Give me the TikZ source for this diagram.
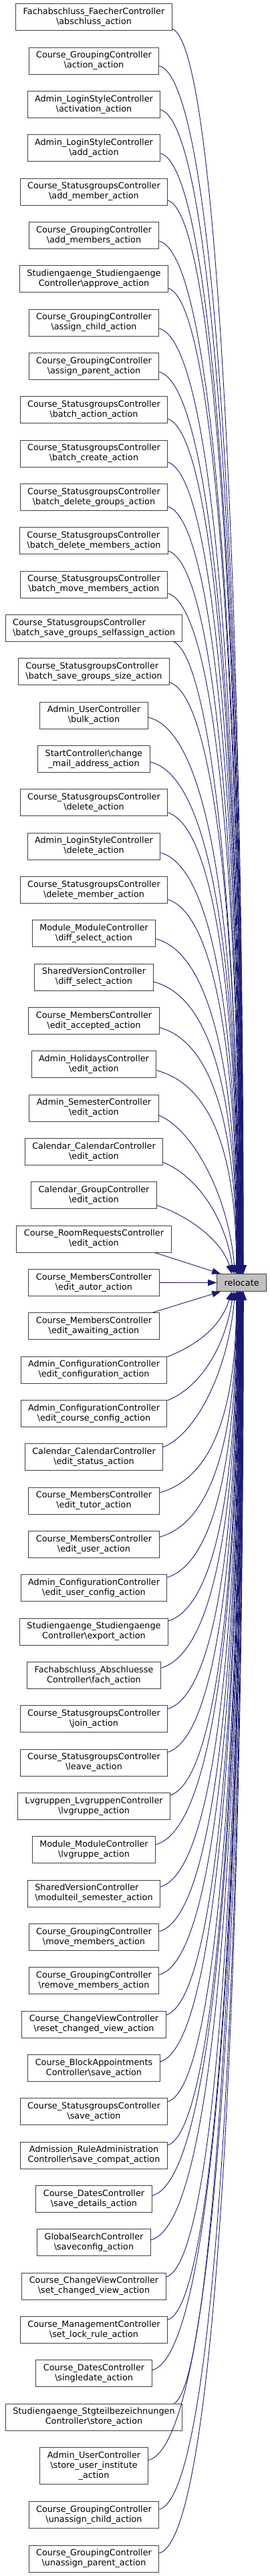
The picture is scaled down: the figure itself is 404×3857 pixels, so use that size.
\documentclass[tikz,border=0pt]{standalone}
\usepackage{fontspec}
\setmainfont{DejaVu Sans}
\definecolor{edgeblue}{RGB}{25,25,112}
\definecolor{frame}{RGB}{64,64,64}
\definecolor{rootfill}{RGB}{191,191,191}
\usetikzlibrary{arrows.meta}
\newcommand{\bsl}{\textbackslash}
\tikzset{
  caller/.style={draw=frame, fill=white, line width=1pt, inner xsep=11pt, inner ysep=6pt,
              minimum height=40pt, align=center},
  root/.style={caller, fill=rootfill, minimum height=25.6pt},
  call/.style={edgeblue, line width=0.9pt, -{Triangle[length=13pt,width=9.5pt]}},
}

\begin{document}
\begin{tikzpicture}[x=1pt,y=-1pt,font=\fontsize{12.8}{15}\selectfont]
        \useasboundingbox[fill=white] (0,0) rectangle (404,3857);
        % callers
        \node[caller] (n01) at (140.5,25.7) {Fachabschluss\_FaecherController\\\bsl abschluss\_action};
        \node[caller] (n02) at (140.5,91.0) {Course\_GroupingController\\\bsl action\_action};
        \node[caller] (n03) at (140.5,156.4) {Admin\_LoginStyleController\\\bsl activation\_action};
        \node[caller] (n04) at (140.5,221.7) {Admin\_LoginStyleController\\\bsl add\_action};
        \node[caller] (n05) at (140.5,287.0) {Course\_StatusgroupsController\\\bsl add\_member\_action};
        \node[caller] (n06) at (140.5,352.4) {Course\_GroupingController\\\bsl add\_members\_action};
        \node[caller] (n07) at (140.5,417.7) {Studiengaenge\_Studiengaenge\\Controller\bsl approve\_action};
        \node[caller] (n08) at (140.5,483.0) {Course\_GroupingController\\\bsl assign\_child\_action};
        \node[caller] (n09) at (140.5,548.4) {Course\_GroupingController\\\bsl assign\_parent\_action};
        \node[caller] (n10) at (140.5,613.7) {Course\_StatusgroupsController\\\bsl batch\_action\_action};
        \node[caller] (n11) at (140.5,679.0) {Course\_StatusgroupsController\\\bsl batch\_create\_action};
        \node[caller] (n12) at (140.5,744.4) {Course\_StatusgroupsController\\\bsl batch\_delete\_groups\_action};
        \node[caller,align=left] (n13) at (140.5,809.7) {Course\_StatusgroupsController\\\bsl batch\_delete\_members\_action};
        \node[caller] (n14) at (140.5,875.0) {Course\_StatusgroupsController\\\bsl batch\_move\_members\_action};
        \node[caller,align=left] (n15) at (140.5,940.4) {Course\_StatusgroupsController\\\bsl batch\_save\_groups\_selfassign\_action};
        \node[caller,align=left] (n16) at (140.5,1005.7) {Course\_StatusgroupsController\\\bsl batch\_save\_groups\_size\_action};
        \node[caller] (n17) at (140.5,1071.0) {Admin\_UserController\\\bsl bulk\_action};
        \node[caller] (n18) at (140.5,1136.4) {StartController\bsl change\\\_mail\_address\_action};
        \node[caller] (n19) at (140.5,1201.7) {Course\_StatusgroupsController\\\bsl delete\_action};
        \node[caller] (n20) at (140.5,1267.0) {Admin\_LoginStyleController\\\bsl delete\_action};
        \node[caller] (n21) at (140.5,1332.4) {Course\_StatusgroupsController\\\bsl delete\_member\_action};
        \node[caller] (n22) at (140.5,1397.7) {Module\_ModuleController\\\bsl diff\_select\_action};
        \node[caller] (n23) at (140.5,1463.0) {SharedVersionController\\\bsl diff\_select\_action};
        \node[caller] (n24) at (140.5,1528.4) {Course\_MembersController\\\bsl edit\_accepted\_action};
        \node[caller] (n25) at (140.5,1593.7) {Admin\_HolidaysController\\\bsl edit\_action};
        \node[caller] (n26) at (140.5,1659.0) {Admin\_SemesterController\\\bsl edit\_action};
        \node[caller] (n27) at (140.5,1724.4) {Calendar\_CalendarController\\\bsl edit\_action};
        \node[caller] (n28) at (140.5,1789.7) {Calendar\_GroupController\\\bsl edit\_action};
        \node[caller] (n29) at (140.5,1855.0) {Course\_RoomRequestsController\\\bsl edit\_action};
        \node[caller] (n30) at (140.5,1920.4) {Course\_MembersController\\\bsl edit\_autor\_action};
        \node[caller] (n31) at (140.5,1985.7) {Course\_MembersController\\\bsl edit\_awaiting\_action};
        \node[caller] (n32) at (140.5,2051.0) {Admin\_ConfigurationController\\\bsl edit\_configuration\_action};
        \node[caller] (n33) at (140.5,2116.4) {Admin\_ConfigurationController\\\bsl edit\_course\_config\_action};
        \node[caller] (n34) at (140.5,2181.7) {Calendar\_CalendarController\\\bsl edit\_status\_action};
        \node[caller] (n35) at (140.5,2247.0) {Course\_MembersController\\\bsl edit\_tutor\_action};
        \node[caller] (n36) at (140.5,2312.4) {Course\_MembersController\\\bsl edit\_user\_action};
        \node[caller] (n37) at (140.5,2377.7) {Admin\_ConfigurationController\\\bsl edit\_user\_config\_action};
        \node[caller] (n38) at (140.5,2443.0) {Studiengaenge\_Studiengaenge\\Controller\bsl export\_action};
        \node[caller] (n39) at (140.5,2508.4) {Fachabschluss\_Abschluesse\\Controller\bsl fach\_action};
        \node[caller] (n40) at (140.5,2573.7) {Course\_StatusgroupsController\\\bsl join\_action};
        \node[caller] (n41) at (140.5,2639.0) {Course\_StatusgroupsController\\\bsl leave\_action};
        \node[caller] (n42) at (140.5,2704.4) {Lvgruppen\_LvgruppenController\\\bsl lvgruppe\_action};
        \node[caller] (n43) at (140.5,2769.7) {Module\_ModuleController\\\bsl lvgruppe\_action};
        \node[caller,align=left] (n44) at (140.5,2835.0) {SharedVersionController\\\bsl modulteil\_semester\_action};
        \node[caller] (n45) at (140.5,2900.4) {Course\_GroupingController\\\bsl move\_members\_action};
        \node[caller] (n46) at (140.5,2965.7) {Course\_GroupingController\\\bsl remove\_members\_action};
        \node[caller] (n47) at (140.5,3031.0) {Course\_ChangeViewController\\\bsl reset\_changed\_view\_action};
        \node[caller] (n48) at (140.5,3096.4) {Course\_BlockAppointments\\Controller\bsl save\_action};
        \node[caller] (n49) at (140.5,3161.7) {Course\_StatusgroupsController\\\bsl save\_action};
        \node[caller] (n50) at (140.5,3227.0) {Admission\_RuleAdministration\\Controller\bsl save\_compat\_action};
        \node[caller] (n51) at (140.5,3292.4) {Course\_DatesController\\\bsl save\_details\_action};
        \node[caller] (n52) at (140.5,3357.7) {GlobalSearchController\\\bsl saveconfig\_action};
        \node[caller] (n53) at (140.5,3423.0) {Course\_ChangeViewController\\\bsl set\_changed\_view\_action};
        \node[caller] (n54) at (140.5,3488.4) {Course\_ManagementController\\\bsl set\_lock\_rule\_action};
        \node[caller] (n55) at (140.5,3553.7) {Course\_DatesController\\\bsl singledate\_action};
        \node[caller] (n56) at (140.5,3619.0) {Studiengaenge\_Stgteilbezeichnungen\\Controller\bsl store\_action};
        \node[caller] (n57) at (140.5,3691.7) {Admin\_UserController\\\bsl store\_user\_institute\hspace*{10.5pt}\\\_action};
        \node[caller] (n58) at (140.5,3765.7) {Course\_GroupingController\\\bsl unassign\_child\_action};
        \node[caller] (n59) at (140.5,3831.0) {Course\_GroupingController\\\bsl unassign\_parent\_action};
        % callee
        \node[root] (relocate) at (361.7,1920.5) {relocate};
        % calls from above
        \draw[call] ([yshift=-17.6pt]n01.east) .. controls +(71,25) and +(0,-932) .. ([xshift=2.5pt]relocate.north);
        \draw[call] ([yshift=-7.6pt]n02.east) .. controls +(91,25) and +(0,-905) .. ([xshift=2.1pt]relocate.north);
        \draw[call] ([yshift=-8pt]n03.east) .. controls +(88,25) and +(0,-872) .. ([xshift=1.6pt]relocate.north);
        \draw[call] ([yshift=-8pt]n04.east) .. controls +(88,25) and +(0,-839) .. ([xshift=1.2pt]relocate.north);
        \draw[call] ([yshift=-13pt]n05.east) .. controls +(78,25) and +(0,-804) .. ([xshift=0.7pt]relocate.north);
        \draw[call] ([yshift=-8.6pt]n06.east) .. controls +(91,25) and +(0,-773) .. ([xshift=0.3pt]relocate.north);
        \draw[call] ([yshift=-14pt]n07.east) .. controls +(78,25) and +(0,-738) .. ([xshift=-0.1pt]relocate.north);
        \draw[call] ([yshift=-8.7pt]n08.east) .. controls +(91,25) and +(0,-708) .. ([xshift=-0.6pt]relocate.north);
        \draw[call] ([yshift=-8.4pt]n09.east) .. controls +(91,25) and +(0,-675) .. ([xshift=-1pt]relocate.north);
        \draw[call] ([yshift=-13.6pt]n10.east) .. controls +(78,25) and +(0,-640) .. ([xshift=-1.5pt]relocate.north);
        \draw[call] ([yshift=-13pt]n11.east) .. controls +(78,25) and +(0,-608) .. ([xshift=-1.9pt]relocate.north);
        \draw[call] ([yshift=-14pt]n12.east) .. controls +(78,25) and +(0,-575) .. ([xshift=-2.3pt]relocate.north);
        \draw[call] ([yshift=-15.3pt]n13.east) .. controls +(76,25) and +(0,-541) .. ([xshift=-2.8pt]relocate.north);
        \draw[call] ([yshift=-13.3pt]n14.east) .. controls +(78,25) and +(0,-510) .. ([xshift=-3.2pt]relocate.north);
        \draw[call] ([xshift=-13.3pt]n15.south east) .. controls +(60,30) and +(0,-474) .. ([xshift=-3.7pt]relocate.north);
        \draw[call] ([yshift=-16pt]n16.east) .. controls +(74,25) and +(0,-443) .. ([xshift=-4.1pt]relocate.north);
        \draw[call] ([yshift=-3pt]n17.east) .. controls +(107,25) and +(0,-417) .. ([xshift=-4.5pt]relocate.north);
        \draw[call] ([yshift=-4.4pt]n18.east) .. controls +(105,25) and +(0,-383) .. ([xshift=-5pt]relocate.north);
        \draw[call] ([yshift=-15pt]n19.east) .. controls +(78,25) and +(0,-345) .. ([xshift=-5.4pt]relocate.north);
        \draw[call] ([yshift=-9.7pt]n20.east) .. controls +(88,25) and +(0,-315) .. ([xshift=-5.9pt]relocate.north);
        \draw[call] ([yshift=-14.4pt]n21.east) .. controls +(78,25) and +(0,-280) .. ([xshift=-6.3pt]relocate.north);
        \draw[call] ([yshift=-8pt]n22.east) .. controls +(94,25) and +(0,-251) .. ([xshift=-6.7pt]relocate.north);
        \draw[call] ([yshift=-7pt]n23.east) .. controls +(100,25) and +(0,-219) .. ([xshift=-7.2pt]relocate.north);
        \draw[call] ([yshift=-10pt]n24.east) .. controls +(90,25) and +(0,-185) .. ([xshift=-7.6pt]relocate.north);
        \draw[call] ([yshift=-9pt]n25.east) .. controls +(93,25) and +(0,-152) .. ([xshift=-8.1pt]relocate.north);
        \draw[call] ([yshift=-11pt]n26.east) .. controls +(50,20) and +(-10,-119) .. ([xshift=-10pt]relocate.north);
        \draw[call] ([yshift=-16pt]n27.east) .. controls +(50,20) and +(-12,-84) .. ([xshift=-12.5pt]relocate.north);
        \draw[call] ([yshift=-15pt]n28.east) .. controls +(45,15) and +(-15,-51) .. ([xshift=-15pt]relocate.north);
        \draw[call] ([xshift=-25pt]n29.south east) -- ([xshift=6pt]relocate.north west);
        \draw[call] (n30.east) -- (relocate.west);
        % calls from below
        \draw[call] ([xshift=-10.3pt]n31.north east) -- ([xshift=6pt]relocate.south west);
        \draw[call] ([yshift=19.5pt]n32.east) .. controls +(50,-20) and +(-15,49) .. ([xshift=-15pt]relocate.south);
        \draw[call] ([yshift=19.5pt]n33.east) .. controls +(50,-20) and +(-12,82) .. ([xshift=-12.5pt]relocate.south);
        \draw[call] ([yshift=15pt]n34.east) .. controls +(50,-20) and +(-10,117) .. ([xshift=-10pt]relocate.south);
        \draw[call] ([yshift=12pt]n35.east) .. controls +(90,-25) and +(0,151) .. ([xshift=-8pt]relocate.south);
        \draw[call] ([yshift=11pt]n36.east) .. controls +(90,-25) and +(0,184) .. ([xshift=-7.6pt]relocate.south);
        \draw[call] ([yshift=16pt]n37.east) .. controls +(78,-25) and +(0,214) .. ([xshift=-7.1pt]relocate.south);
        \draw[call] ([yshift=16pt]n38.east) .. controls +(78,-25) and +(0,247) .. ([xshift=-6.7pt]relocate.south);
        \draw[call] ([yshift=11pt]n39.east) .. controls +(88,-25) and +(0,282) .. ([xshift=-6.2pt]relocate.south);
        \draw[call] ([yshift=15pt]n40.east) .. controls +(78,-25) and +(0,313) .. ([xshift=-5.8pt]relocate.south);
        \draw[call] ([yshift=15.6pt]n41.east) .. controls +(78,-25) and +(0,345) .. ([xshift=-5.4pt]relocate.south);
        \draw[call] ([yshift=16.5pt]n42.east) .. controls +(74,-25) and +(0,377) .. ([xshift=-4.9pt]relocate.south);
        \draw[call] ([yshift=8pt]n43.east) .. controls +(94,-25) and +(0,414) .. ([xshift=-4.5pt]relocate.south);
        \draw[call] ([yshift=10pt]n44.east) .. controls +(88,-25) and +(0,446) .. ([xshift=-4pt]relocate.south);
        \draw[call] ([yshift=8.5pt]n45.east) .. controls +(91,-25) and +(0,479) .. ([xshift=-3.6pt]relocate.south);
        \draw[call] ([yshift=9pt]n46.east) .. controls +(91,-25) and +(0,512) .. ([xshift=-3.2pt]relocate.south);
        \draw[call] ([yshift=14pt]n47.east) .. controls +(80,-25) and +(0,542) .. ([xshift=-2.7pt]relocate.south);
        \draw[call] ([yshift=9.5pt]n48.east) .. controls +(88,-25) and +(0,577) .. ([xshift=-2.3pt]relocate.south);
        \draw[call] ([yshift=15pt]n49.east) .. controls +(78,-25) and +(0,607) .. ([xshift=-1.8pt]relocate.south);
        \draw[call] ([yshift=15pt]n50.east) .. controls +(77,-25) and +(0,639) .. ([xshift=-1.4pt]relocate.south);
        \draw[call] ([yshift=5pt]n51.east) .. controls +(101,-25) and +(0,677) .. ([xshift=-1pt]relocate.south);
        \draw[call] ([yshift=4pt]n52.east) .. controls +(103,-25) and +(0,710) .. ([xshift=-0.5pt]relocate.south);
        \draw[call] ([yshift=13.6pt]n53.east) .. controls +(80,-25) and +(0,738) .. ([xshift=-0.1pt]relocate.south);
        \draw[call] ([yshift=15pt]n54.east) .. controls +(77,-25) and +(0,770) .. ([xshift=0.4pt]relocate.south);
        \draw[call] ([yshift=5pt]n55.east) .. controls +(101,-25) and +(0,808) .. ([xshift=0.8pt]relocate.south);
        \draw[call] ([xshift=-12.6pt]n56.north east) .. controls +(60,-30) and +(0,833) .. ([xshift=1.3pt]relocate.south);
        \draw[call] ([yshift=8pt]n57.east) .. controls +(107,-25) and +(0,875) .. ([xshift=1.7pt]relocate.south);
        \draw[call] ([yshift=8.4pt]n58.east) .. controls +(91,-25) and +(0,912) .. ([xshift=2.1pt]relocate.south);
        \draw[call] ([yshift=8.3pt]n59.east) .. controls +(91,-25) and +(0,945) .. ([xshift=2.6pt]relocate.south);
\end{tikzpicture}
\end{document}
